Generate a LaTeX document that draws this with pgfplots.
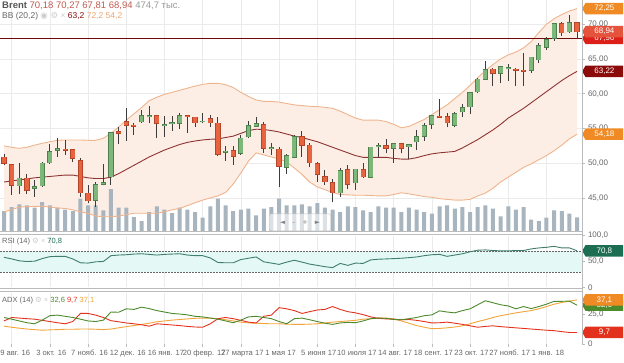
\documentclass[border=0pt]{standalone}
\usepackage{pgfplots}
\pgfplotsset{compat=1.18}
\usepackage{pgfplotstable}
\usepgfplotslibrary{fillbetween}
\usetikzlibrary{shapes.symbols}
\usepackage{fontspec}
\setmainfont{Liberation Sans}
\newfontfamily\sym{DejaVu Sans}

\definecolor{gridc}{HTML}{EBEBEB}
\definecolor{labc}{HTML}{666666}
\definecolor{bbfill}{HTML}{FDEEE5}
\definecolor{bbline}{HTML}{EFB48E}
\definecolor{bbmid}{HTML}{8E3333}
\definecolor{upfill}{HTML}{7DB87B}
\definecolor{upedge}{HTML}{4E7F4C}
\definecolor{dnfill}{HTML}{E8643E}
\definecolor{dnedge}{HTML}{B4452A}
\definecolor{wick}{HTML}{3C3C3C}
\definecolor{volc}{HTML}{A8B4BE}
\definecolor{rsic}{HTML}{3E7E6A}
\definecolor{rsifill}{HTML}{E4F8F6}
\definecolor{pdic}{HTML}{4C8A2C}
\definecolor{mdic}{HTML}{E2321E}
\definecolor{adxc}{HTML}{F2A43A}
\definecolor{orbox}{HTML}{F08A24}
\definecolor{redbox}{HTML}{E5533D}
\definecolor{red2box}{HTML}{DD1F1A}
\definecolor{dredbox}{HTML}{8B0A0A}
\definecolor{grbox}{HTML}{1C6E52}
\definecolor{sepc}{HTML}{BBBBBB}
\definecolor{hdrc}{HTML}{555555}
\definecolor{valc}{HTML}{BF5A4E}
\definecolor{iconc}{HTML}{CCCCCC}
\definecolor{bbhi}{HTML}{EFA56C}

\pgfplotstableread{
i up mid lo vol rsi pdi mdi adx
0 52.5 47.3 43.0 700 58.1 22.3 19.4 15.0
1 52.3 47.45 43.3 840 55.0 20.9 22.3 14.1
2 52.15 47.6 43.7 935 51.3 19.4 21.8 13.3
3 52.3 47.75 43.75 900 50.0 17.9 21.3 12.6
4 52.6 47.9 43.8 819 50.6 17.0 20.9 12.1
5 52.87 48.0 43.8 1015 55.6 20.1 19.9 11.6
6 53.1 48.1 43.7 900 59.4 23.8 18.9 11.9
7 53.3 48.2 43.55 819 60.0 24.3 17.9 12.1
8 53.35 48.3 43.5 749 60.0 23.3 17.0 12.4
9 53.35 48.3 43.3 700 55.0 22.3 18.9 12.4
10 53.35 48.1 43.0 1134 47.5 20.9 25.7 12.6
11 53.3 47.9 42.8 900 46.9 19.4 25.7 12.6
12 53.3 47.8 42.4 900 49.4 18.9 24.3 12.4
13 53.6 47.8 42.3 725 50.0 20.1 22.3 12.1
14 54.3 48.0 42.3 1470 61.3 26.9 19.6 12.6
15 55.2 48.5 42.4 819 62.5 26.7 18.7 13.6
16 56.2 49.1 42.6 819 63.1 29.6 17.7 14.6
17 57.1 49.7 42.8 490 64.4 29.1 17.0 15.5
18 58.0 50.3 42.8 350 65.0 31.0 16.2 16.5
19 59.0 50.9 42.8 665 63.8 29.8 15.0 17.5
20 59.5 51.4 42.8 865 62.5 28.1 17.0 18.7
21 59.9 51.9 43.0 749 63.8 26.9 16.5 19.4
22 60.2 52.3 43.3 630 64.4 25.7 16.0 20.1
23 60.5 52.7 43.5 819 65.0 25.2 15.5 20.6
24 60.8 53.0 43.9 749 62.5 24.5 14.8 21.1
25 61.1 53.2 44.3 665 61.3 23.3 14.3 21.6
26 61.35 53.35 44.7 469 61.3 22.8 14.1 21.8
27 61.5 53.45 45.0 865 56.9 21.8 17.0 21.8
28 61.5 53.5 45.3 1134 48.1 20.9 21.3 21.3
29 61.3 53.7 45.8 900 47.5 19.4 22.3 20.4
30 60.9 53.9 47.0 700 47.5 17.9 21.3 19.4
31 60.2 54.3 48.6 749 53.8 20.1 19.9 18.4
32 59.6 54.7 50.3 784 56.3 22.8 18.4 17.7
33 59.1 54.9 51.5 550 58.8 23.3 17.7 17.5
34 58.9 54.85 51.2 784 49.4 22.3 23.3 17.2
35 58.9 54.7 50.9 840 46.9 21.3 24.3 17.0
36 58.8 54.5 50.6 1134 44.4 18.9 30.6 17.0
37 58.6 54.2 50.2 900 48.8 17.0 29.6 16.7
38 58.4 53.9 49.3 900 52.5 21.3 28.1 16.5
39 58.3 53.7 48.4 935 48.8 21.8 25.7 16.5
40 58.2 53.4 47.3 865 45.0 20.4 27.2 16.7
41 58.15 53.1 46.6 980 42.5 18.9 28.6 17.0
42 58.05 52.7 46.2 819 40.0 17.5 29.1 17.7
43 57.9 52.3 45.8 749 38.1 16.5 31.5 18.4
44 57.5 51.9 45.5 665 46.3 17.7 29.1 18.9
45 57.0 51.5 45.45 865 42.5 18.2 27.2 19.4
46 56.5 51.1 45.4 840 46.9 17.9 26.2 19.9
47 56.2 50.85 45.4 725 46.3 19.4 24.7 20.9
48 56.2 50.85 45.35 665 53.1 21.3 22.8 21.3
49 56.2 50.85 45.3 865 54.4 21.8 21.6 21.8
50 56.0 50.85 45.3 819 55.0 21.6 21.1 21.8
51 55.6 50.7 45.5 819 55.6 20.6 20.9 21.1
52 55.1 50.6 45.75 665 56.3 20.4 20.4 19.4
53 55.3 50.6 45.6 819 57.5 21.3 20.6 17.5
54 55.8 50.8 45.4 749 58.8 22.3 19.9 15.5
55 56.3 51.1 45.2 665 61.3 23.8 18.9 14.1
56 57.0 51.35 45.1 609 63.1 24.5 17.7 12.9
57 57.7 51.5 44.9 865 63.8 27.9 17.9 13.1
58 58.4 51.6 44.8 900 60.0 26.9 18.4 13.6
59 59.3 51.7 44.7 784 62.5 26.2 17.5 14.3
60 60.2 52.2 44.7 840 65.0 28.1 16.5 15.3
61 61.2 52.8 44.8 665 68.8 29.6 15.3 17.0
62 62.3 53.4 45.3 840 71.9 33.0 14.1 18.9
63 63.3 54.1 45.7 900 72.5 36.4 14.8 20.4
64 64.2 54.8 46.4 784 71.3 34.7 15.3 22.3
65 65.0 55.6 47.3 515 70.6 33.0 14.6 23.8
66 65.6 56.5 48.0 865 70.6 32.0 14.1 25.0
67 66.0 57.2 48.7 749 71.3 29.6 13.6 26.2
68 66.6 57.9 49.4 840 71.3 31.5 13.1 27.2
69 67.5 58.7 49.9 399 74.4 29.8 12.6 28.1
70 68.8 59.5 50.5 350 76.3 31.5 12.1 29.6
71 70.0 60.3 51.1 469 77.5 33.5 11.6 31.5
72 70.8 61.1 51.8 725 79.4 35.9 11.2 33.5
73 71.4 61.9 52.6 700 76.3 35.9 10.4 34.9
74 71.9 62.6 53.5 609 76.3 36.1 9.7 36.1
75 72.25 63.22 54.18 475 70.8 32.6 9.7 37.1
}\ind

\pgfplotstableread{
i o h l c
2 46.77 50.1 45.6 47.83
4 46.4 47.6 45.2 46.6
5 46.77 50.2 46.6 49.99
6 50.08 52.77 49.9 51.67
7 51.9 53.6 50.95 52.05
12 44.7 47.35 43.75 46.87
13 47.0 49.9 46.8 47.15
14 48.07 54.5 46.87 54.4
18 55.98 57.66 55.84 56.8
19 56.75 58.2 55.74 56.85
21 55.45 56.8 53.8 55.55
22 55.7 56.8 54.7 55.8
23 55.74 57.3 54.9 56.8
26 55.95 57.3 55.74 56.05
29 51.6 52.5 50.37 51.7
31 51.43 54.06 51.2 53.6
32 53.8 56.08 53.7 55.36
33 55.3 56.7 55.2 55.65
35 52.1 52.87 51.2 52.2
37 49.4 51.4 48.45 51.04
38 50.85 54.06 50.7 53.8
44 45.77 49.27 45.2 48.93
46 47.2 49.12 46.15 49.12
48 47.97 52.39 47.83 52.29
49 52.4 52.96 50.85 52.55
51 52.15 52.77 50.08 52.77
53 52.4 52.7 50.56 52.65
54 53.1 54.78 51.9 53.8
55 53.92 55.74 53.25 55.36
56 55.65 56.94 54.9 56.8
59 55.5 57.4 55.17 57.1
60 57.4 58.5 56.6 58.0
61 58.14 60.3 57.09 60.16
62 60.3 62.2 60.06 62.07
63 62.07 64.7 61.98 63.45
65 62.94 64.0 61.5 63.9
66 63.6 64.28 61.9 63.7
69 63.42 65.34 63.03 65.24
70 64.9 67.25 64.4 66.9
71 66.68 68.2 66.3 67.73
72 67.97 70.13 67.64 70.04
74 68.93 71.33 68.8 70.23
}\up

\pgfplotstableread{
i o h l c
0 50.85 51.3 49.7 50.0
1 49.75 49.9 45.4 46.87
3 47.83 48.5 45.6 46.15
8 52.0 53.3 51.2 51.9
9 51.9 52.1 50.2 50.7
10 50.37 50.7 45.2 45.77
11 45.67 46.87 44.23 44.6
15 54.5 55.2 52.8 54.35
16 55.98 57.9 53.25 55.5
17 55.45 55.74 54.06 55.35
20 56.85 56.9 53.6 55.74
24 56.85 57.0 54.4 56.75
25 56.6 56.7 55.2 55.84
27 56.37 56.94 55.2 55.84
28 55.74 56.6 51.04 51.33
30 51.8 52.5 49.75 51.04
34 55.5 55.98 51.52 52.15
36 52.0 52.4 46.6 49.6
39 53.8 54.7 50.95 52.6
40 52.6 52.96 49.4 50.08
41 49.9 50.2 47.35 48.45
42 48.07 49.0 46.87 47.35
43 47.2 47.7 44.38 45.77
45 49.03 49.75 46.25 47.01
47 49.03 50.08 47.9 48.07
50 52.48 53.44 51.43 52.2
52 52.77 52.77 51.43 52.15
57 56.75 59.2 56.6 56.65
58 56.7 57.28 55.17 55.84
64 63.5 63.66 61.1 62.94
67 63.5 63.7 61.1 63.4
68 63.35 65.8 61.1 63.25
73 70.04 70.37 68.3 68.8
75 70.18 70.27 67.81 68.94
}\dn

\tikzset{
  vbox/.style={signal, signal to=west, signal pointer angle=120, text=white,
    font=\fontsize{8}{9}\selectfont, inner sep=1.2pt, minimum height=11.5pt,
    minimum width=41pt, anchor=west},
}
\pgfplotsset{
  panel/.style={
    scale only axis, width=582pt, anchor=south west,
    xmin=-0.524, xmax=75.65,
    axis line style={draw=none},
    xtick={1,6,...,71}, xticklabels={},
    xtick style={draw=none},
    ytick pos=right, yticklabel pos=right,
    tick align=outside, major tick length=2.5pt,
    ytick style={draw=sepc, line width=0.5pt},
    grid=major, major grid style={draw=gridc, line width=0.6pt},
    tick label style={font=\fontsize{8}{9}\selectfont, text=labc},
  },
  ovl/.style={
    scale only axis, width=582pt, anchor=south west,
    xmin=-0.524, xmax=75.65, hide axis,
  },
  wk/.style={draw=none, mark=none, error bars/.cd, y dir=plus, y explicit,
    error mark=none, error bar style={draw=#1, line width=1pt}},
  bd/.style 2 args={draw=none, mark=none, error bars/.cd, y dir=plus, y explicit,
    error mark=none, error bar style={draw=#1, line width=#2}},
}

\begin{document}
\begin{tikzpicture}

% ---------- main price panel: grid and BB fill
\begin{axis}[panel, at={(0pt,131pt)}, height=231pt, ymin=40.25, ymax=73.49,
  ytick={45,50,...,70},
  yticklabels={{45,00},{50,00},{55,00},{60,00},{65,00},{70,00}}]
  \addplot[draw=none, name path=U] table[x=i,y=up]{\ind};
  \addplot[draw=none, name path=L] table[x=i,y=lo]{\ind};
  \addplot[fill=bbfill, draw=none] fill between[of=U and L];
\end{axis}

% ---------- volume
\begin{axis}[ovl, at={(0pt,131pt)}, height=231pt, ymin=0, ymax=8085]
  \addplot[ybar, bar width=4pt, bar shift=0pt, fill=volc, draw=none] table[x=i,y=vol]{\ind};
\end{axis}

% ---------- candles and bands
\begin{axis}[ovl, at={(0pt,131pt)}, height=231pt, ymin=40.25, ymax=73.49, clip=false]
  \addplot[bbline, line width=0.9pt] table[x=i,y=up]{\ind};
  \addplot[bbline, line width=0.9pt] table[x=i,y=lo]{\ind};
  \addplot[bbmid, line width=0.9pt] table[x=i,y=mid]{\ind};
  \addplot[dredbox!80!black, line width=0.8pt] coordinates {(-0.524,67.96) (75.65,67.96)};
  % wicks
  \addplot[wk=wick] table[x=i, y=l, y error expr=\thisrow{h}-\thisrow{l}] {\up};
  \addplot[wk=wick] table[x=i, y=l, y error expr=\thisrow{h}-\thisrow{l}] {\dn};
  % bodies
  \addplot[bd={upedge}{5.2pt}] table[x=i, y expr=\thisrow{o}-0.08, y error expr=\thisrow{c}-\thisrow{o}+0.16] {\up};
  \addplot[bd={upfill}{3.8pt}] table[x=i, y=o, y error expr=\thisrow{c}-\thisrow{o}] {\up};
  \addplot[bd={dnedge}{5.2pt}] table[x=i, y expr=\thisrow{c}-0.08, y error expr=\thisrow{o}-\thisrow{c}+0.16] {\dn};
  \addplot[bd={dnfill}{3.8pt}] table[x=i, y=c, y error expr=\thisrow{o}-\thisrow{c}] {\dn};
  % navigation box
  \node[draw=gray!45, fill=white, fill opacity=0.6, text opacity=1, rounded corners=2pt,
    minimum width=61pt, minimum height=17pt, inner sep=0pt, text=gray,
    font=\sym\fontsize{6.5}{7}\selectfont] at (axis cs:38.74,41.5)
    {◄\hspace{7pt}–\hspace{7pt}+\hspace{7pt}►};
  % value boxes
  \node[vbox, fill=red2box] at (axis cs:75.65,67.96) {67,96};
  \node[vbox, fill=redbox] at (axis cs:75.65,68.94) {68,94};
  \node[vbox, fill=orbox] at (axis cs:75.65,72.25) {72,25};
  \node[vbox, fill=dredbox] at (axis cs:75.65,63.22) {63,22};
  \node[vbox, fill=orbox] at (axis cs:75.65,54.18) {54,18};
\end{axis}

% ---------- RSI panel
\begin{axis}[panel, at={(0pt,74.7pt)}, height=51.6pt, ymin=0, ymax=100,
  ytick={0,50,100}, yticklabels={0,{50,0},{100,0}}, ymajorgrids=false, clip=false]
  \addplot[fill=rsifill, draw=none] coordinates {(-0.524,30) (75.65,30) (75.65,70) (-0.524,70)} -- cycle;
  \addplot[labc, line width=0.6pt, dash pattern=on 1.5pt off 1.5pt] coordinates {(-0.524,70) (75.65,70)};
  \addplot[labc, line width=0.6pt, dash pattern=on 1.5pt off 1.5pt] coordinates {(-0.524,30) (75.65,30)};
  \addplot[rsic, line width=0.9pt] table[x=i,y=rsi]{\ind};
  \node[vbox, fill=grbox] at (axis cs:75.65,70.8) {70,8};
\end{axis}

% ---------- ADX panel
\begin{axis}[panel, at={(0pt,18pt)}, height=51pt, ymin=0, ymax=42.9,
  ytick={0,25}, yticklabels={0,{25,0}}, ymajorgrids=false, clip=false,
  xtick pos=bottom, xtick style={draw=sepc, line width=0.5pt},
  xticklabel style={font=\fontsize{7.6}{9}\selectfont, xshift=1.5pt},
  xticklabels={29 авг. 16,3 окт. 16,7 нояб. 16,12 дек. 16,16 янв. 17,20 февр. 17,27 марта 17,1 мая 17,5 июня 17,10 июля 17,14 авг. 17,18 сент. 17,23 окт. 17,27 нояб. 17,1 янв. 18}]
  \addplot[adxc, line width=0.9pt] table[x=i,y=adx]{\ind};
  \addplot[mdic, line width=0.9pt] table[x=i,y=mdi]{\ind};
  \addplot[pdic, line width=0.9pt] table[x=i,y=pdi]{\ind};
  \node[vbox, fill=pdic] at (axis cs:75.65,32.6) {32,6};
  \node[vbox, fill=orbox] at (axis cs:75.65,37.1) {37,1};
  \node[vbox, fill=mdic] at (axis cs:75.65,9.7) {9,7};
\end{axis}

% ---------- separators and right axis line
\draw[sepc, line width=0.7pt] (0pt,130.6pt) -- (582pt,130.6pt);
\draw[sepc, line width=0.7pt] (0pt,128pt) -- (582pt,128pt);
\draw[sepc, line width=0.7pt] (0pt,73.6pt) -- (582pt,73.6pt);
\draw[sepc, line width=0.7pt] (0pt,70.8pt) -- (582pt,70.8pt);
\draw[sepc, line width=0.7pt] (582pt,18pt) -- (582pt,362pt);

% ---------- headers
\node[anchor=west, inner sep=0pt, font=\fontsize{9.5}{11}\selectfont] at (2pt,356pt)
  {\textcolor{hdrc}{\textbf{Brent}} \textcolor{valc}{70,18 70,27 67,81 68,94} \textcolor{gray!80}{474,7 тыс.}};
\node[anchor=west, inner sep=0pt, font=\fontsize{8.5}{10}\selectfont] at (2pt,346pt)
  {\textcolor{labc}{BB (20,2)} \textcolor{iconc}{{\sym ◉ ⚙} ×} \textcolor{dredbox}{63,2} \textcolor{bbhi}{72,2 54,2}};
\node[anchor=west, inner sep=0pt, font=\fontsize{7.5}{9}\selectfont] at (2pt,120pt)
  {\textcolor{labc}{RSI (14)} \textcolor{iconc}{{\sym ⚙} ×} \textcolor{grbox}{70,8}};
\node[anchor=west, inner sep=0pt, font=\fontsize{7.5}{9}\selectfont] at (2pt,61pt)
  {\textcolor{labc}{ADX (14)} \textcolor{iconc}{{\sym ⚙} ×} \textcolor{pdic}{32,6} \textcolor{mdic}{9,7} \textcolor{adxc}{37,1}};

\pgfresetboundingbox
\useasboundingbox (0,0) rectangle (624pt,362pt);
\end{tikzpicture}
\end{document}
